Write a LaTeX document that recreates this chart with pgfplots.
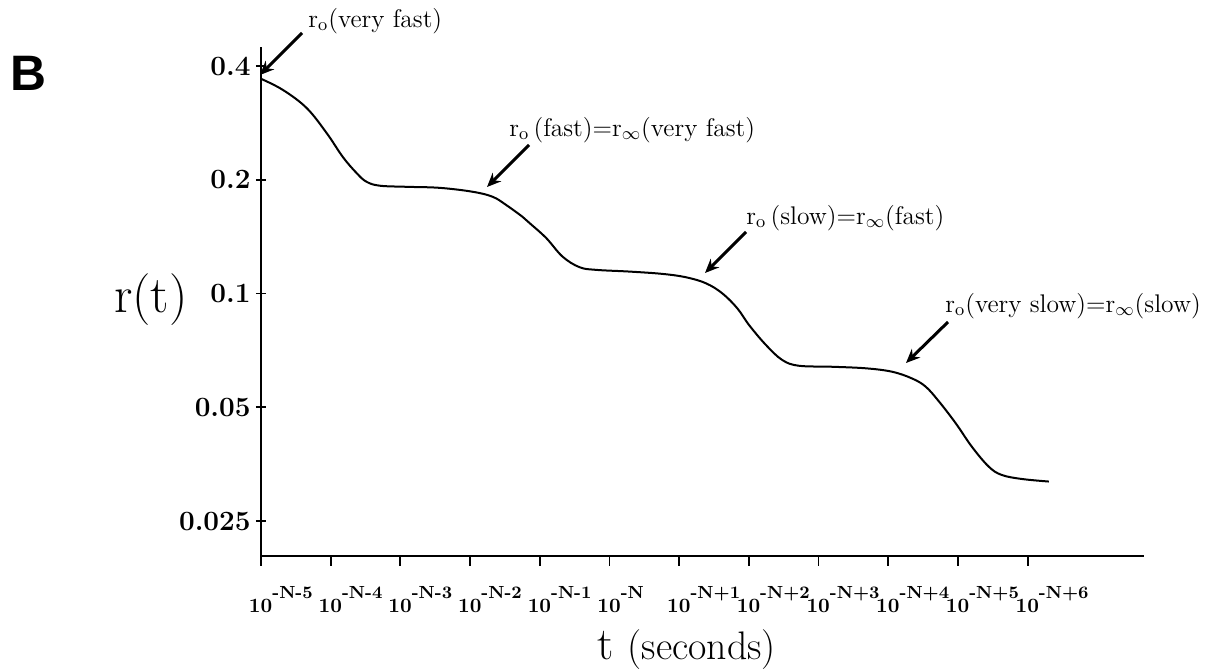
\documentclass[border=0pt]{standalone}
\usepackage{fontspec}
\usepackage{pgfplots}
\pgfplotsset{compat=1.18}
\usetikzlibrary{arrows.meta}
\newfontfamily\sansb{Liberation Sans}
\newcommand{\xl}[1]{\textbf{10}\raisebox{7bp}{\fontsize{8.8}{9}\selectfont\textbf{#1}}}
\newcommand{\ro}{r$_{\mathrm{o}}$}
\newcommand{\rinf}{r$_{\infty}$}
\begin{document}
\begin{tikzpicture}
\path[use as bounding box] (-130.5bp,-57.5bp) rectangle (473bp,278bp);
\begin{axis}[
  at={(0,0)}, anchor=south west, scale only axis,
  width=441.5bp, height=254.5bp,
  xmin=-5, xmax=7.67, ymode=log, ymin=0.0202, ymax=0.4491,
  axis lines*=left,
  axis line style={line width=1bp},
  tick align=outside, major tick length=5bp,
  tick style={line width=0.9bp, black},
  ytick style={xshift=2.5bp},
  xtick={-5,-4,-3,-2,-1,0,1,2,3,4,5,6},
  xticklabels={\xl{-N-5},\xl{-N-4},\xl{-N-3},\xl{-N-2},\xl{-N-1},\xl{-N},\xl{-N+1},\xl{-N+2},\xl{-N+3},\xl{-N+4},\xl{-N+5},\xl{-N+6}},
  xticklabel style={anchor=north west, inner sep=0pt, xshift=-6.2bp, yshift=-10bp, font=\fontsize{10.2}{11}\selectfont},
  ytick={0.025,0.05,0.1,0.2,0.4},
  yticklabels={0.025,0.05,0.1,0.2,0.4},
  yticklabel style={anchor=east, inner sep=0pt, xshift=0bp, font=\fontsize{14}{15}\selectfont\bfseries},
  minor tick num=0,
  clip=false,
]
\addplot[black, line width=1bp, smooth, tension=0.6] table {
x y
-5.000 0.370
-4.685 0.3457
-4.345 0.3097
-4.059 0.266
-3.825 0.2297
-3.629 0.2084
-3.486 0.1976
-3.294 0.1929
-2.913 0.1916
-2.436 0.1904
-1.963 0.1859
-1.676 0.1803
-1.480 0.1714
-1.246 0.1595
-1.146 0.1536
-0.907 0.1402
-0.673 0.1252
-0.430 0.1174
-0.191 0.1155
0.287 0.1143
0.759 0.1127
1.099 0.1104
1.386 0.1064
1.619 0.1001
1.834 0.0914
2.006 0.0824
2.245 0.0731
2.479 0.0667
2.718 0.0644
3.195 0.0640
3.678 0.0634
4.054 0.0621
4.341 0.0596
4.537 0.0567
4.728 0.0518
4.967 0.0454
5.201 0.0393
5.444 0.0348
5.630 0.0331
5.917 0.0323
6.304 0.0318
};
\end{axis}
% panel letter and axis titles
\node[font=\sansb\bfseries\fontsize{25}{26}\selectfont] at (-116.5bp,241.5bp) {B};
\node[font=\fontsize{26}{28}\selectfont] at (-55bp,128bp) {r(t)};
\node[anchor=base west, inner sep=0pt] at (168bp,-51.5bp) {{\fontsize{23}{25}\selectfont t}\hspace{7bp}{\fontsize{20}{22}\selectfont (seconds)}};
% annotations
\begin{scope}[font=\fontsize{12.8}{14}\selectfont]
\draw[line width=1.5bp, -{Stealth[length=7bp,width=6bp]}] (20.5bp,261.5bp) -- (-0.5bp,240.5bp);
\node[anchor=west, inner sep=0pt] at (23.5bp,267.5bp) {\ro(very fast)};
\draw[line width=1.5bp, -{Stealth[length=7bp,width=6bp]}] (134bp,205.5bp) -- (113bp,184.5bp);
\node[anchor=west, inner sep=0pt] at (124bp,213bp) {\ro\,(fast)=\rinf(very fast)};
\draw[line width=1.5bp, -{Stealth[length=7bp,width=6bp]}] (242.5bp,162bp) -- (222bp,141.5bp);
\node[anchor=west, inner sep=0pt] at (242.5bp,169bp) {\ro\,(slow)=\rinf(fast)};
\draw[line width=1.5bp, -{Stealth[length=7bp,width=6bp]}] (343.5bp,117bp) -- (322.5bp,96.5bp);
\node[anchor=west, inner sep=0pt] at (342bp,125bp) {\ro(very slow)=\rinf(slow)};
\end{scope}
\end{tikzpicture}
\end{document}
